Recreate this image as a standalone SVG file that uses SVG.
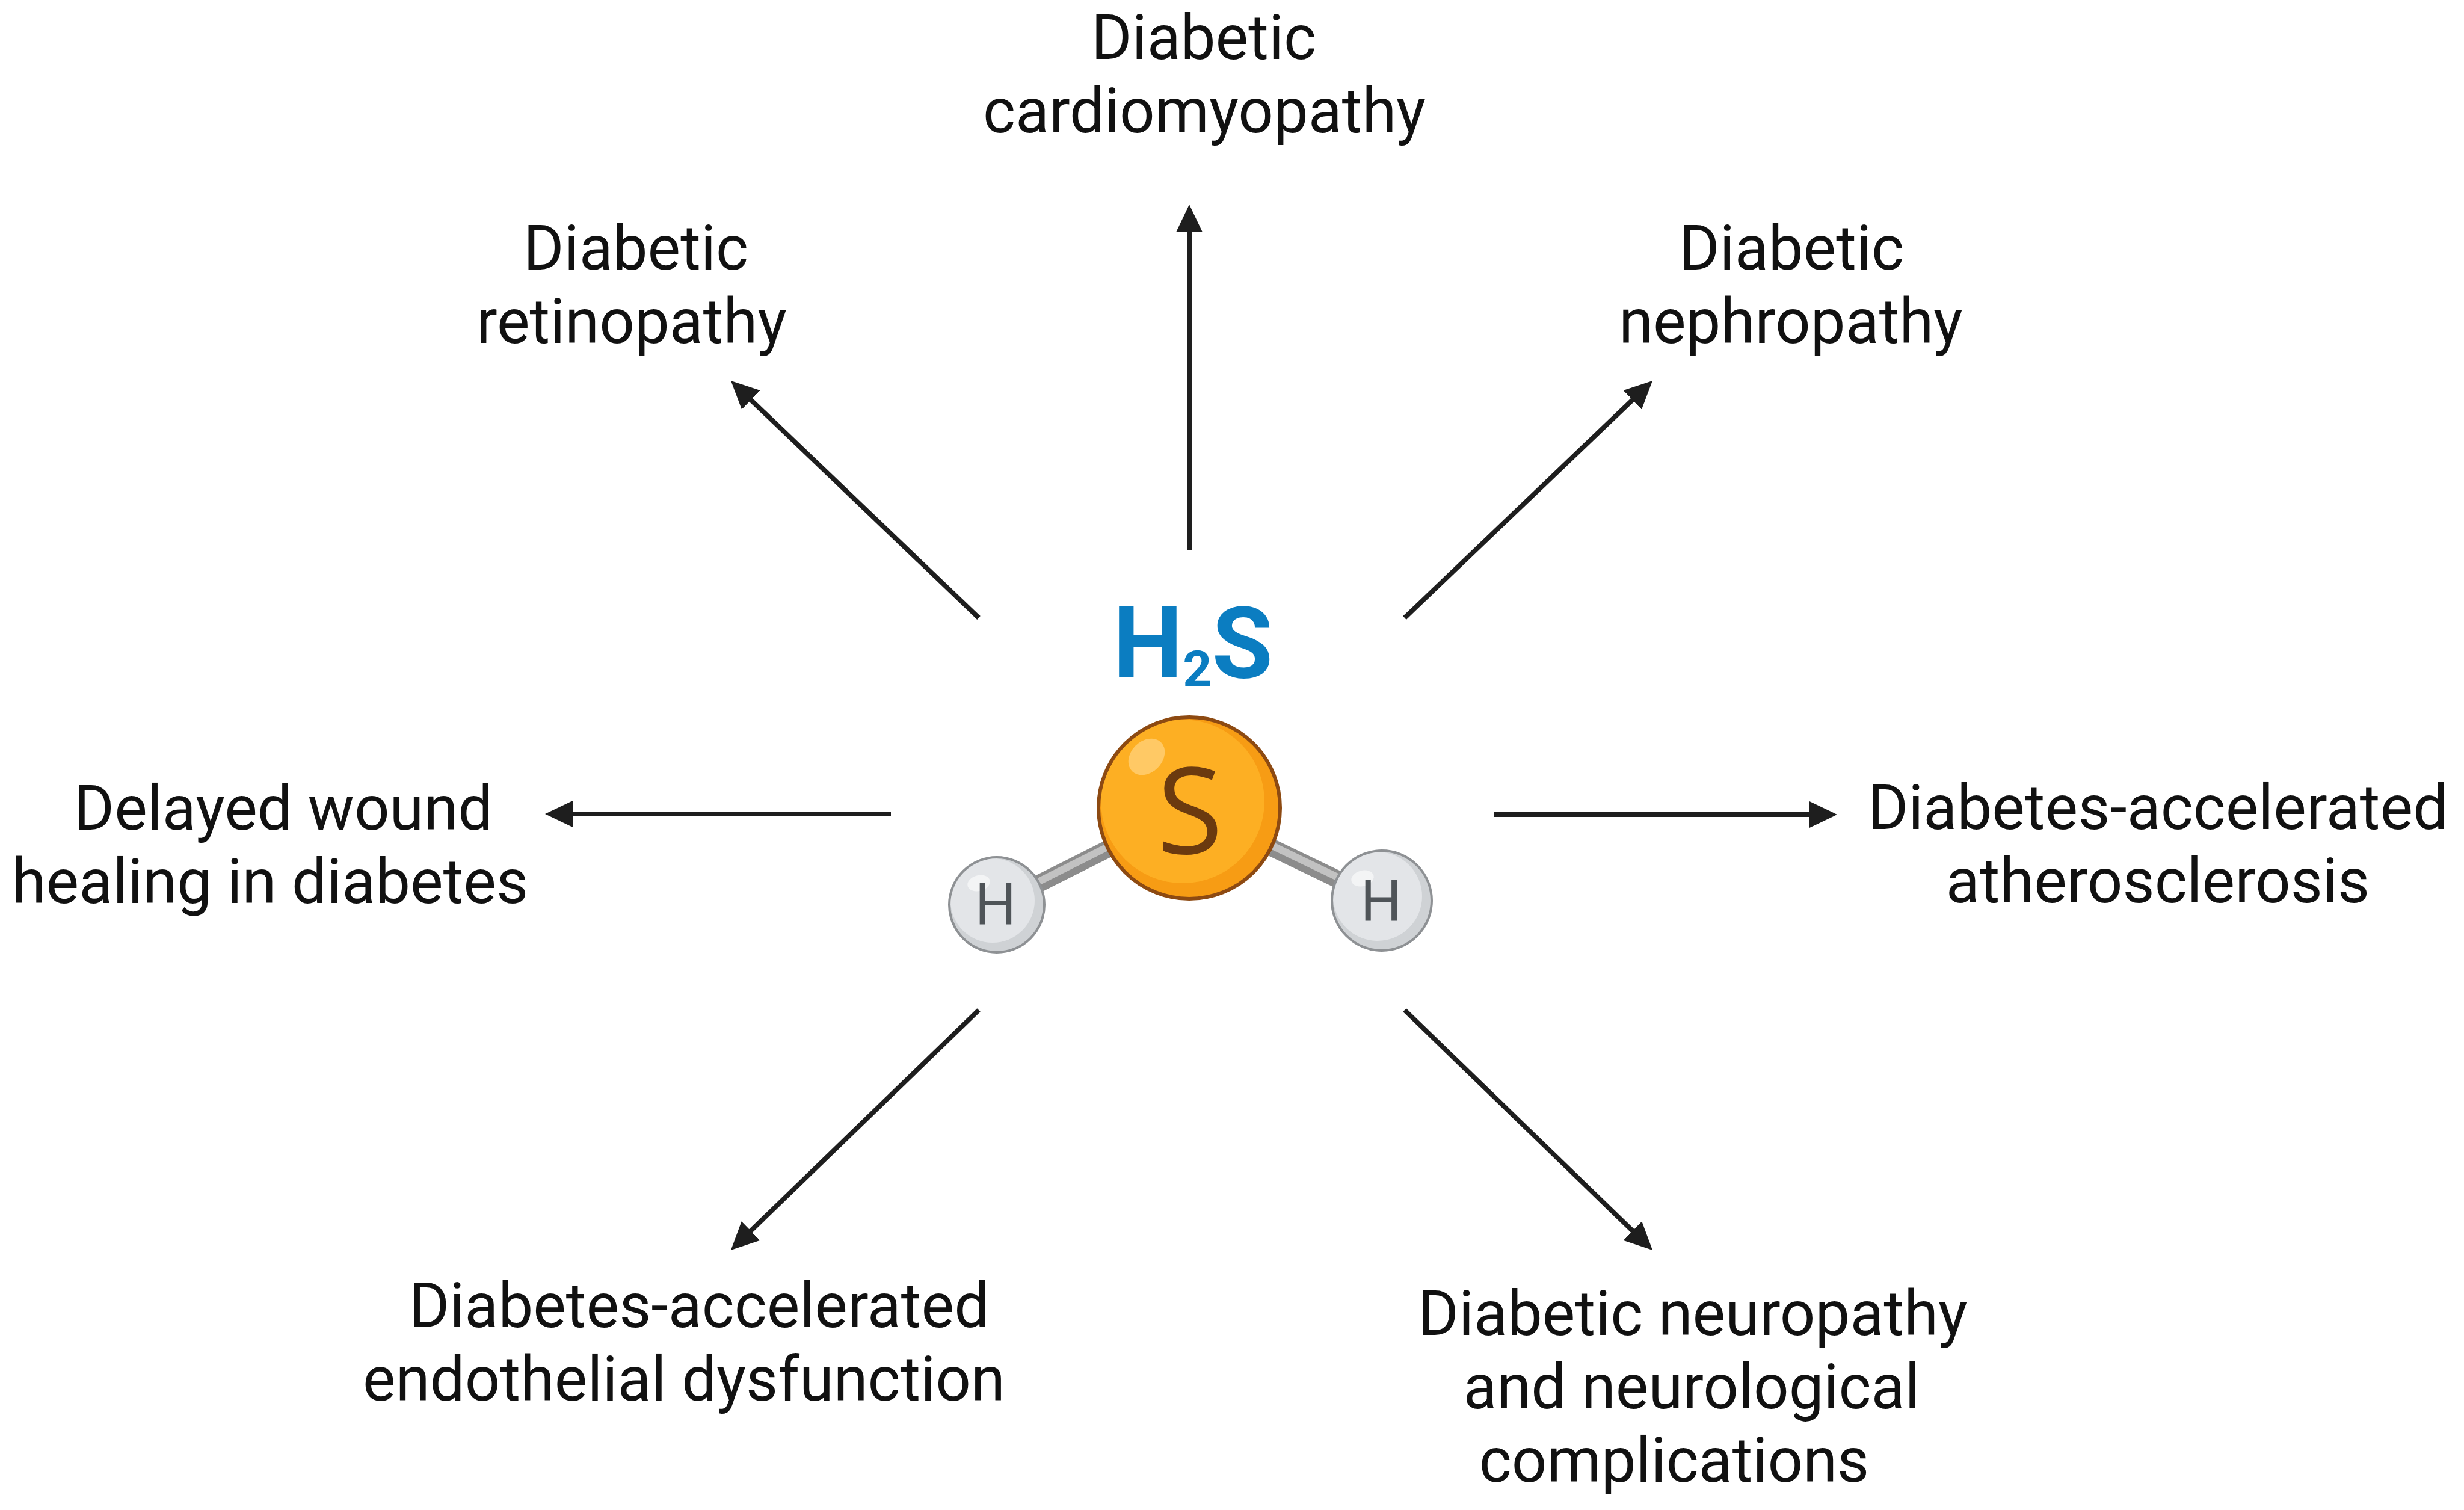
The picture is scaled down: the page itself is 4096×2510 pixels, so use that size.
<svg xmlns="http://www.w3.org/2000/svg" width="4096" height="2510" viewBox="0 0 4096 2510">
<style>
.lbl{font-family:Roboto,"Liberation Sans",sans-serif;font-size:103px;fill:#111;text-anchor:middle}
.conn{stroke:#1e1e1e;stroke-width:8;fill:none;marker-end:url(#ah)}
.bondD{stroke:#8c8c8c;stroke-width:29;stroke-linecap:butt}
.bondL{stroke:#c2c2c2;stroke-width:12;stroke-linecap:butt}
.hball{fill:#cfd2d5}
.hlight{fill:#e3e5e8}
.hring{fill:none;stroke:#8e9194;stroke-width:4}
.hlet{font-family:Roboto,"Liberation Sans",sans-serif;font-size:96px;fill:#4f5458;text-anchor:middle}
</style>
<defs>
<marker id="ah" markerUnits="userSpaceOnUse" viewBox="0 0 46 44" markerWidth="46" markerHeight="44" refX="34" refY="22" orient="auto">
<path d="M0,0 L46,22 L0,44 Z" fill="#1e1e1e"/>
</marker>
<clipPath id="sclip"><circle cx="1977" cy="1343" r="151"/></clipPath>
</defs>
<rect x="0" y="0" width="4096" height="2510" fill="#ffffff"/>

<g id="connectors">
<line class="conn" x1="1977" y1="914" x2="1977" y2="352"/>
<line class="conn" x1="1627" y1="1027" x2="1223.7" y2="641.3"/>
<line class="conn" x1="2335" y1="1027" x2="2738.3" y2="641.3"/>
<line class="conn" x1="1481" y1="1353" x2="918" y2="1353"/>
<line class="conn" x1="2484" y1="1354" x2="3042" y2="1354"/>
<line class="conn" x1="1627" y1="1679" x2="1223.6" y2="2069.7"/>
<line class="conn" x1="2335" y1="1679" x2="2738.4" y2="2069.7"/>
</g>

<g id="h2s">
<g id="h2s-label">
<text x="1983" y="1126" font-family="Roboto,'Liberation Sans',sans-serif" font-weight="700" font-size="165" fill="#0b7dc1" text-anchor="middle">H<tspan font-size="84" dy="15">2</tspan><tspan dy="-15">S</tspan></text>
</g>
<g id="bonds">
<line class="bondD" x1="1657" y1="1504" x2="1977" y2="1343"/>
<line class="bondL" x1="1656" y1="1501" x2="1976" y2="1340"/>
<line class="bondD" x1="2297" y1="1497" x2="1977" y2="1343"/>
<line class="bondL" x1="2298" y1="1494" x2="1978" y2="1340"/>
</g>
<g id="atom-S">
<circle cx="1977" cy="1343" r="151" fill="#f79c14"/>
<circle cx="1966" cy="1332" r="136" fill="#fdaf23" clip-path="url(#sclip)"/>
<ellipse cx="1906" cy="1258" rx="34" ry="26" fill="#ffc965" transform="rotate(-45 1906 1258)"/>
<circle cx="1977" cy="1343" r="151" fill="none" stroke="#8d4a12" stroke-width="6"/>
<text x="1978" y="1419" font-family="'Open Sans','Noto Sans',sans-serif" font-size="200" fill="#6b3a0f" text-anchor="middle">S</text>
</g>
<g id="atom-H-left">
<circle class="hball" cx="1657" cy="1504" r="79"/>
<circle class="hlight" cx="1650" cy="1497" r="70"/>
<ellipse cx="1627" cy="1468" rx="19" ry="13" fill="#f3f4f5" transform="rotate(-15 1627 1468)"/>
<circle class="hring" cx="1657" cy="1504" r="79"/>
<text class="hlet" x="1655" y="1537">H</text>
</g>
<g id="atom-H-right">
<circle class="hball" cx="2297" cy="1497" r="83"/>
<circle class="hlight" cx="2290" cy="1490" r="74"/>
<ellipse cx="2265" cy="1460" rx="19" ry="13" fill="#f3f4f5" transform="rotate(-15 2265 1460)"/>
<circle class="hring" cx="2297" cy="1497" r="83"/>
<text class="hlet" x="2296" y="1531">H</text>
</g>
</g>

<g id="node-cardiomyopathy">
<text class="lbl" x="2001" y="98">Diabetic</text>
<text class="lbl" x="2002" y="220">cardiomyopathy</text>
</g>
<g id="node-retinopathy">
<text class="lbl" x="1057" y="448">Diabetic</text>
<text class="lbl" x="1050" y="570">retinopathy</text>
</g>
<g id="node-nephropathy">
<text class="lbl" x="2978" y="448">Diabetic</text>
<text class="lbl" x="2977" y="570">nephropathy</text>
</g>
<g id="node-wound">
<text class="lbl" x="471" y="1379">Delayed wound</text>
<text class="lbl" x="449" y="1501">healing in diabetes</text>
</g>
<g id="node-atherosclerosis">
<text class="lbl" x="3587" y="1378">Diabetes-accelerated</text>
<text class="lbl" x="3587" y="1500">atherosclerosis</text>
</g>
<g id="node-endothelial">
<text class="lbl" x="1162" y="2206">Diabetes-accelerated</text>
<text class="lbl" x="1137" y="2328">endothelial dysfunction</text>
</g>
<g id="node-neuropathy">
<text class="lbl" x="2814" y="2219">Diabetic neuropathy</text>
<text class="lbl" x="2812" y="2341">and neurological</text>
<text class="lbl" x="2783" y="2463">complications</text>
</g>
</svg>
